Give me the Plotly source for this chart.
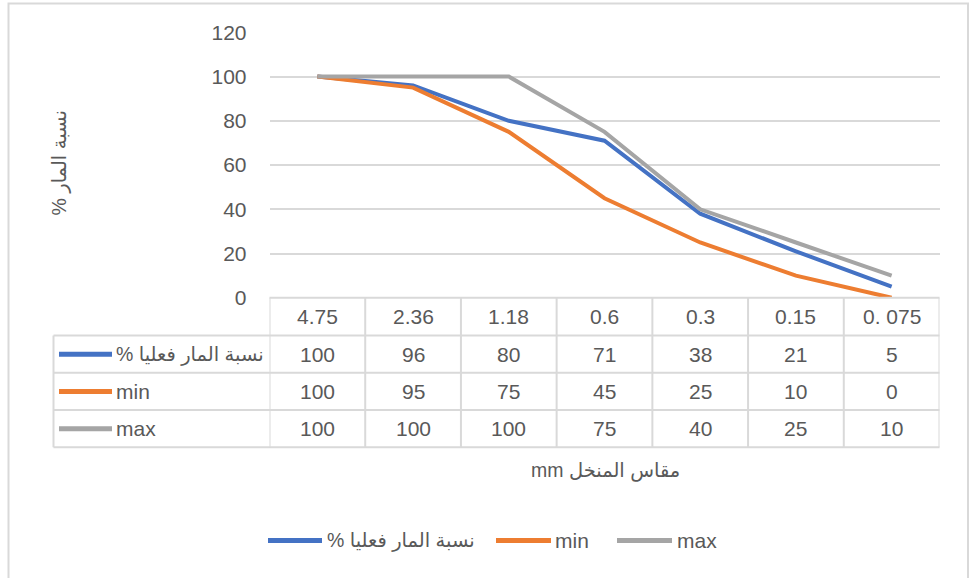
import plotly.graph_objects as go

# Sieve sizes (mm) and passing percentages
sieve_sizes = ["4.75", "2.36", "1.18", "0.6", "0.3", "0.15", "0. 075"]
passing_actual = [100, 96, 80, 71, 38, 21, 5]
passing_min = [100, 95, 75, 45, 25, 10, 0]
passing_max = [100, 100, 100, 75, 40, 25, 10]

series_names = ["% نسبة المار فعليا", "min", "max"]
series_values = [passing_actual, passing_min, passing_max]
series_colors = ["#4472C4", "#ED7D31", "#A5A5A5"]

y_ticks = [0, 20, 40, 60, 80, 100, 120]
y_title = "% نسبة المار"
x_title = "mm مقاس المنخل"

W, H = 969, 578
TEXT = "#595959"
GRID = "#D9D9D9"
FONT = "Liberation Sans, DejaVu Sans, sans-serif"
FS = 21       # numbers and latin labels
FS_AR = 19.5  # labels containing arabic script


def px(x):
    return x / W


def py(y):
    return 1 - y / H


def label_size(s):
    return FS_AR if any("\u0600" <= ch <= "\u06ff" for ch in s) else FS


# plot area in pixels
PL, PR, PT, PB = 269.5, 939.5, 32.3, 297.8
# data table rows (pixel edges)
row_edges = [PB, 335.5, 372.8, 410.0, 447.3]
table_left = 53.5

fig = go.Figure()
x_idx = list(range(len(sieve_sizes)))
for name, vals, col in zip(series_names, series_values, series_colors):
    fig.add_trace(go.Scatter(
        x=x_idx, y=vals, mode="lines", name=name,
        line=dict(color=col, width=4), showlegend=False,
    ))

shapes = []
annotations = []

# outer chart border
shapes.append(dict(type="rect", xref="paper", yref="paper",
                   x0=px(8.5), x1=px(968), y0=py(590), y1=py(3.5),
                   line=dict(color=GRID, width=2), layer="below"))

# table horizontal lines
for i, ye in enumerate(row_edges):
    x0 = PL if i == 0 else table_left
    shapes.append(dict(type="line", xref="paper", yref="paper",
                       x0=px(x0), x1=px(PR), y0=py(ye), y1=py(ye),
                       line=dict(color=GRID, width=2)))
# table vertical lines
for k in range(len(sieve_sizes) + 1):
    shapes.append(dict(type="line", xref="x", yref="paper",
                       x0=k - 0.5, x1=k - 0.5, y0=py(row_edges[0]), y1=py(row_edges[-1]),
                       line=dict(color=GRID, width=2)))
shapes.append(dict(type="line", xref="paper", yref="paper",
                   x0=px(table_left), x1=px(table_left),
                   y0=py(row_edges[1]), y1=py(row_edges[-1]),
                   line=dict(color=GRID, width=2)))


def text(x, y, s, xref="paper", xanchor="center", angle=0):
    annotations.append(dict(x=x, y=y, xref=xref, yref="paper", text=s,
                            xanchor=xanchor, yanchor="middle", textangle=angle,
                            showarrow=False,
                            font=dict(size=label_size(s), color=TEXT, family=FONT)))


# header row: sieve sizes
hdr_y = py((row_edges[0] + row_edges[1]) / 2)
for i, s in enumerate(sieve_sizes):
    text(i, hdr_y, s, xref="x")

# value rows with legend keys
for r, (name, vals, col) in enumerate(zip(series_names, series_values, series_colors)):
    yc = (row_edges[r + 1] + row_edges[r + 2]) / 2
    for i, v in enumerate(vals):
        text(i, py(yc), str(v), xref="x")
    shapes.append(dict(type="line", xref="paper", yref="paper",
                       x0=px(59), x1=px(112), y0=py(yc), y1=py(yc),
                       line=dict(color=col, width=5)))
    text(px(114), py(yc), name, xanchor="left")

# axis titles
text(px(58.5), py(163), y_title, angle=-90)
text(px(605), py(470), x_title)

# bottom legend
legend_items = [(268, 322, 325), (496, 551, 553), (617, 672, 675)]
ly = 540.5
for (a, b, t), name, col in zip(legend_items, series_names, series_colors):
    shapes.append(dict(type="line", xref="paper", yref="paper",
                       x0=px(a), x1=px(b), y0=py(ly), y1=py(ly),
                       line=dict(color=col, width=5)))
    text(px(t), py(ly), name, xanchor="left")

fig.update_layout(
    width=W, height=H,
    margin=dict(l=0, r=0, t=0, b=0, autoexpand=False),
    paper_bgcolor="white", plot_bgcolor="white",
    shapes=shapes, annotations=annotations,
    xaxis=dict(domain=[px(PL), px(PR)], range=[-0.5, len(sieve_sizes) - 0.5],
               showticklabels=False, showgrid=False, zeroline=False, showline=False,
               automargin=False, fixedrange=True),
    yaxis=dict(domain=[py(PB), py(PT)], range=[0, 120], tickvals=y_ticks,
               showgrid=True, gridcolor=GRID, gridwidth=1.5, zeroline=False,
               showline=False, ticklabelstandoff=22, automargin=False,
               tickfont=dict(size=FS, color=TEXT, family=FONT), fixedrange=True),
)

fig.write_html("out.html")
